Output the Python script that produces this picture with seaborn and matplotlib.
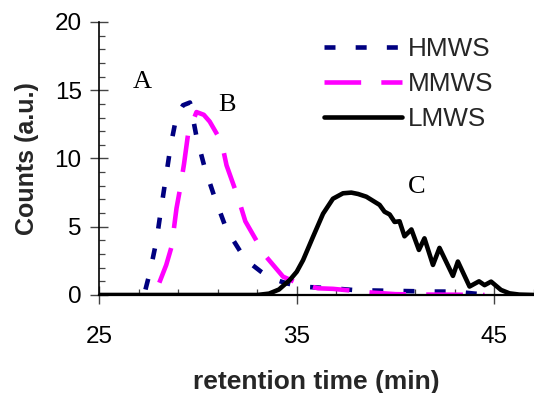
import matplotlib
matplotlib.use("Agg")
import matplotlib.pyplot as plt
import matplotlib.ticker as mticker
import seaborn as sns
import numpy as np
import pandas as pd

# ---- data ----
hmws_x = [27.35, 27.58, 27.91, 28.13, 28.37, 28.62, 28.92, 29.25, 29.6, 29.93, 30.35, 30.86,
          31.45, 32.4, 33.2, 33.7, 34.5, 35.24, 36.8, 38.0, 40.0, 42.0, 43.0, 44.0, 45.0]
hmws_y = [0.4, 1.7, 4.0, 6.2, 8.5, 10.9, 13.1, 13.9, 14.1, 11.6, 9.3, 7.1,
          4.8, 2.6, 1.7, 1.22, 0.85, 0.61, 0.49, 0.35, 0.3, 0.25, 0.25, 0.1, 0.0]

mmws_x = [28.05, 28.4, 28.67, 28.92, 29.09, 29.3, 29.51, 29.93, 30.3, 30.6, 31.2, 31.45,
          32.04, 32.4, 33.38, 34.31, 35.0, 36.08, 36.83, 38.85, 40.0, 41.5, 43.0, 44.5]
mmws_y = [0.9, 2.2, 3.54, 6.35, 7.7, 9.6, 11.85, 13.4, 13.2, 12.7, 11.2, 9.5,
          7.1, 5.4, 2.93, 1.34, 0.9, 0.49, 0.45, 0.17, 0.06, 0.03, 0.02, 0.0]

lmws_x = [25.0, 33.0, 33.6, 34.1, 34.65, 35.0, 35.32, 35.82, 36.33, 36.83, 37.34, 37.76, 38.1,
          38.52, 39.19, 39.44, 39.7, 39.95, 40.2, 40.45, 40.8, 41.18, 41.46, 41.89, 42.22,
          42.9, 43.15, 43.74, 44.22, 44.5, 44.83, 45.33, 45.76, 46.25, 47.0]
lmws_y = [0.0, 0.0, 0.1, 0.4, 1.1, 1.7, 2.55, 4.25, 5.95, 7.05, 7.45, 7.5, 7.4,
          7.2, 6.6, 6.1, 5.9, 5.35, 5.4, 4.3, 4.8, 3.3, 4.15, 2.2, 3.45,
          1.4, 2.45, 0.62, 1.0, 0.72, 0.98, 0.37, 0.12, 0.03, 0.0]

series_names = ["HMWS", "MMWS", "LMWS"]
peak_labels = ["A", "B", "C"]
peak_label_x = [27.2, 31.45, 41.05]
peak_label_y = [15.6, 13.9, 7.9]
x_major = [25, 35, 45]
y_major = [0, 5, 10, 15, 20]

# ---- styling ----
sns.set_theme(style="ticks")
plt.rcParams["font.family"] = ["Liberation Sans", "DejaVu Sans"]

fig = plt.figure(figsize=(5.34, 3.93), dpi=100)
ax = fig.add_axes([0.1854, 0.2494, 0.8146, 0.6947])

lw = 3.3
sns.lineplot(x=hmws_x, y=hmws_y, ax=ax, color="#000080", linewidth=lw, sort=False,
             label=series_names[0])
sns.lineplot(x=mmws_x, y=mmws_y, ax=ax, color="#FF00FF", linewidth=lw, sort=False,
             label=series_names[1])
sns.lineplot(x=lmws_x, y=lmws_y, ax=ax, color="black", linewidth=lw, sort=False,
             label=series_names[2])
lines = ax.get_lines()
lines[0].set_linestyle((0, (2.4, 4.4)))
lines[0].set_dash_capstyle("butt")
lines[1].set_linestyle((0, (8.0, 4.4)))
lines[1].set_dash_capstyle("butt")
for ln in lines:
    ln.set_solid_joinstyle("round")
    ln.set_dash_joinstyle("round")
lines[2].set_solid_capstyle("round")

for t, tx, ty in zip(peak_labels, peak_label_x, peak_label_y):
    ax.text(tx, ty, t, ha="center", va="center", fontsize=19,
            family=["Liberation Serif", "DejaVu Serif"], color="black")

ax.set_xlim(25, 47)
ax.set_ylim(0, 20)
ax.xaxis.set_major_locator(mticker.FixedLocator(x_major))
ax.xaxis.set_minor_locator(mticker.FixedLocator(np.arange(25, 48, 2)))
ax.yaxis.set_major_locator(mticker.FixedLocator(y_major))
ax.yaxis.set_minor_locator(mticker.MultipleLocator(1))

for s in ["top", "right"]:
    ax.spines[s].set_visible(False)
for s in ["left", "bottom"]:
    ax.spines[s].set_color("black")
ax.spines["left"].set_linewidth(1.2)
ax.spines["bottom"].set_linewidth(1.6)

ax.tick_params(axis="both", which="major", direction="inout", length=13, width=1.0,
               color="#444444", labelsize=17.5, labelcolor="black")
ax.tick_params(axis="x", which="major", pad=16)
ax.tick_params(axis="y", which="major", pad=6)
ax.tick_params(axis="both", which="minor", direction="in", length=4.5, width=0.9,
               color="#444444")

ax.set_xlabel("retention time (min)", fontsize=19, fontweight="bold", labelpad=16)
ax.set_ylabel("Counts (a.u.)", fontsize=18, fontweight="bold", labelpad=11)

leg = ax.legend(loc="upper left", bbox_to_anchor=(0.606, 0.905),
                bbox_transform=fig.transFigure, frameon=False, fontsize=18.8,
                handlelength=3.0, handletextpad=0.22, labelspacing=0.42,
                borderpad=0, borderaxespad=0)

ax.set_facecolor("white")
fig.patch.set_facecolor("white")
fig.savefig("out.png", dpi=100)
